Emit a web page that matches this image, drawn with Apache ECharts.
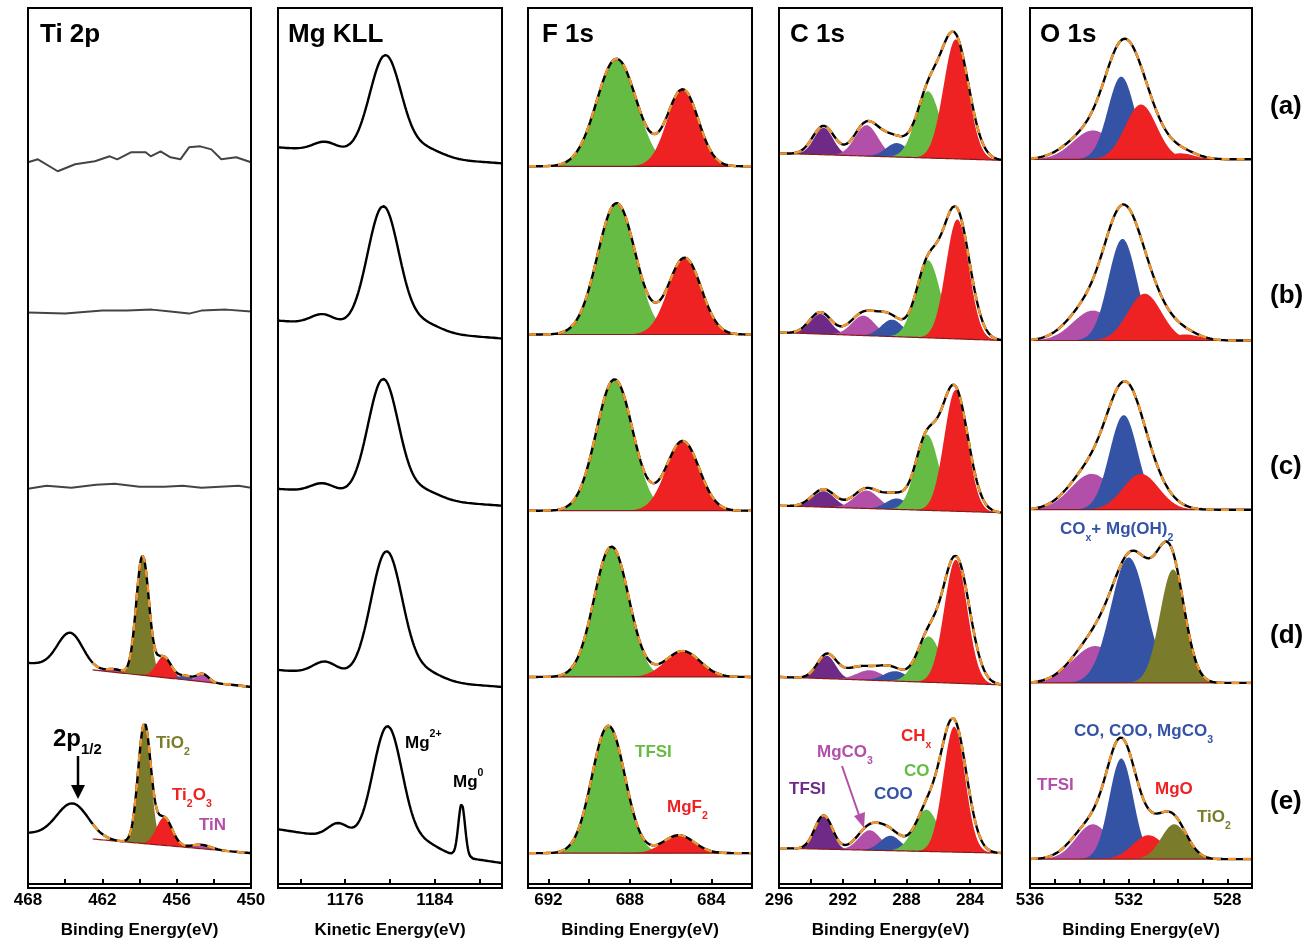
<!DOCTYPE html>
<html>
<head>
<meta charset="utf-8">
<script src="https://cdn.jsdelivr.net/npm/echarts@6/dist/echarts.min.js"></script>
<style>html,body{margin:0;padding:0;background:#fff}#container{width:1316px;height:944px}</style>
</head>
<body>
<div id="container"></div>
<script>
// colours of the fitted components
var colors = {
  green: '#66bb44', red: '#ee2222', blue: '#3453a5', magenta: '#b24fa8',
  purple: '#6e2a86', olive: '#7b7b2c'
};

// panel titles, x ranges (left edge -> right edge) and tick values
var panelTitles = ['Ti 2p', 'Mg KLL', 'F 1s', 'C 1s', 'O 1s'];
var axisNames = ['Binding Energy(eV)', 'Kinetic Energy(eV)', 'Binding Energy(eV)', 'Binding Energy(eV)', 'Binding Energy(eV)'];
var xRanges = [[468, 450], [1170, 1190], [693, 682], [296, 282], [536, 527]];
var tickLabels = [[468, 462, 456, 450], [1176, 1184], [692, 688, 684], [296, 292, 288, 284], [536, 532, 528]];
var minorTicks = [[468, 465, 462, 459, 456, 453, 450], [1172, 1176, 1180, 1184, 1188], [692, 690, 688, 686, 684], [296, 294, 292, 290, 288, 286, 284], [536, 535, 534, 533, 532, 531, 530, 529, 528]];
var sampleLabels = ['(a)', '(b)', '(c)', '(d)', '(e)'];

// background of each spectrum: [value at left edge, value at right edge]
var tiBg = [[22.2, 19.8], [5.1, 3.1]];
var mgBg = [[74.0, 72.4], [56.6, 54.8], [39.7, 38.0], [21.5, 19.8], [5.5, 2.1]];
var fBg = [[72.1, 72.1], [55.2, 55.2], [37.5, 37.5], [20.8, 20.8], [3.1, 3.1]];
var cBg = [[73.4, 72.7], [55.4, 54.6], [38.0, 37.3], [20.8, 20.0], [3.6, 3.1]];
var oBg = [[72.8, 72.8], [54.6, 54.6], [37.6, 37.6], [20.2, 20.2], [2.5, 2.5]];

// fitted peaks: [centre, height, fwhm, colour or null for unfilled]
var tiPeaks = [
  [[464.6, 3.5, 2.4, null], [461.0, 0.3, 1.5, 'magenta'], [458.75, 12.0, 1.2, 'olive'], [457.05, 2.1, 1.4, 'red'], [455.3, 0.4, 1.3, 'blue'], [453.9, 0.8, 1.1, 'magenta']],
  [[464.4, 3.4, 3.0, null], [458.6, 12.0, 1.2, 'olive'], [457.0, 2.8, 1.5, 'red'], [454.0, 0.4, 1.8, 'magenta']]
];
var mgPeaks = [
  [[1174.2, 0.9, 2.5, null], [1179.6, 10.0, 3.3, null], [1183.2, 0.9, 3.5, null]],
  [[1174.0, 1.0, 2.5, null], [1179.4, 12.3, 3.3, null], [1183.0, 0.9, 3.5, null]],
  [[1174.0, 0.9, 2.5, null], [1179.4, 11.8, 3.2, null], [1183.0, 0.9, 3.5, null]],
  [[1174.2, 1.2, 2.5, null], [1179.7, 12.7, 3.3, null], [1183.2, 0.9, 3.5, null]],
  [[1175.4, 1.5, 2.2, null], [1179.8, 12.0, 3.1, null], [1183.2, 0.8, 3.0, null], [1186.4, 5.3, 0.7, null]]
];
var fPeaks = [
  [[688.65, 10.8, 2.3, 'green'], [685.4, 7.7, 1.8, 'red']],
  [[688.65, 13.2, 2.2, 'green'], [685.3, 7.7, 1.9, 'red']],
  [[688.75, 13.2, 2.1, 'green'], [685.4, 7.0, 1.9, 'red']],
  [[688.9, 13.1, 2.0, 'green'], [685.4, 2.6, 2.0, 'red']],
  [[689.05, 12.8, 1.9, 'green'], [685.6, 1.8, 1.8, 'red']]
];
var cPeaks = [
  [[293.2, 2.7, 1.4, 'purple'], [290.5, 3.1, 1.7, 'magenta'], [288.6, 1.4, 1.6, 'blue'], [286.65, 6.7, 1.8, 'green'], [284.9, 12.0, 1.8, 'red']],
  [[293.4, 2.0, 1.5, 'purple'], [290.7, 2.0, 1.7, 'magenta'], [288.9, 1.7, 1.6, 'blue'], [286.65, 7.8, 1.8, 'green'], [284.8, 12.0, 1.7, 'red']],
  [[293.2, 1.6, 1.6, 'purple'], [290.5, 1.8, 1.8, 'magenta'], [288.6, 1.1, 1.6, 'blue'], [286.7, 7.6, 1.7, 'green'], [284.9, 12.2, 1.7, 'red']],
  [[293.0, 2.3, 1.3, 'purple'], [290.3, 1.0, 1.9, 'magenta'], [288.7, 1.0, 1.7, 'blue'], [286.6, 4.6, 1.8, 'green'], [284.9, 12.4, 1.7, 'red']],
  [[293.2, 3.3, 1.2, 'purple'], [290.3, 2.0, 1.6, 'magenta'], [289.0, 1.5, 1.5, 'blue'], [286.75, 4.2, 1.8, 'green'], [285.0, 12.6, 1.6, 'red']]
];
// measured C 1s envelopes (drawn above the components): [centre, height, fwhm]
var cEnvelope = [
  [[293.2, 2.9, 1.6], [290.5, 3.3, 1.8], [288.8, 1.9, 1.9], [286.7, 5.5, 1.7], [285.0, 12.4, 2.1]],
  [[293.4, 2.2, 1.6], [290.7, 2.2, 1.9], [289.1, 2.0, 1.8], [286.7, 6.8, 1.7], [284.9, 13.0, 2.0]],
  [[293.2, 1.8, 1.7], [290.5, 2.0, 1.9], [288.7, 1.4, 1.7], [286.8, 6.5, 1.6], [285.0, 12.5, 2.0]],
  [[293.0, 2.4, 1.4], [290.9, 1.3, 2.3], [289.0, 1.3, 1.9], [286.7, 4.0, 1.6], [284.9, 12.7, 2.0]],
  [[293.2, 3.4, 1.3], [290.3, 2.3, 1.8], [289.0, 1.7, 1.7], [286.75, 3.8, 1.7], [285.05, 13.2, 1.9]]
];
var oPeaks = [
  [[533.45, 2.9, 1.9, 'magenta'], [532.3, 8.3, 1.27, 'blue'], [531.5, 5.5, 1.5, 'red'], [529.9, 0.6, 1.3, 'red']],
  [[533.45, 3.0, 1.9, 'magenta'], [532.25, 10.2, 1.35, 'blue'], [531.35, 4.7, 1.6, 'red'], [529.7, 0.6, 1.4, 'red']],
  [[533.5, 3.6, 2.0, 'magenta'], [532.2, 9.5, 1.35, 'blue'], [531.5, 3.6, 1.7, 'red']],
  [[533.35, 3.7, 2.2, 'magenta'], [532.0, 12.6, 1.7, 'blue'], [530.2, 11.4, 1.25, 'olive']],
  [[533.45, 3.5, 1.6, 'magenta'], [532.3, 10.1, 1.15, 'blue'], [531.2, 2.4, 1.5, 'red'], [530.15, 3.5, 1.25, 'olive']]
];
var oEnvelope = [
  [[533.6, 2.6, 2.1], [532.3, 9.0, 1.65], [531.4, 4.5, 1.7], [529.9, 0.8, 1.5]],
  [[533.6, 3.4, 2.0], [532.3, 10.5, 1.65], [531.3, 4.8, 1.8], [529.8, 0.8, 1.5]],
  [[533.5, 4.0, 2.1], [532.2, 9.2, 1.65], [531.4, 3.8, 1.9]],
  [[533.4, 4.0, 2.1], [531.8, 12.2, 1.9], [530.3, 11.6, 1.3]],
  [[533.5, 3.5, 1.8], [532.3, 10.6, 1.35], [531.2, 2.6, 1.5], [530.2, 3.8, 1.3]]
];

// measured Ti 2p traces of samples (a)-(c): [eV, value]
var tiTraces = [
  [[468, 72.5], [467.2, 72.8], [465.6, 71.6], [464.2, 72.3], [462.6, 72.6], [461.4, 73.1], [460.8, 72.8], [459.7, 73.5], [458.5, 73.5], [458.1, 73.1], [457.3, 73.6], [456.5, 73.0], [455.7, 72.8], [455.0, 74.0], [454.1, 74.1], [453.2, 73.8], [452.4, 72.8], [451.2, 73.0], [450, 72.5]],
  [[468, 57.4], [465, 57.3], [462, 57.6], [460, 57.6], [458, 57.7], [456.5, 57.5], [455, 57.3], [454, 57.6], [452, 57.7], [450, 57.5]],
  [[468, 39.7], [466.5, 40.0], [464.5, 39.8], [462.5, 40.1], [461, 40.2], [459, 39.9], [457, 39.9], [455.5, 40.0], [454, 39.8], [452.5, 39.9], [451, 40.0], [450, 39.8]]
];

var gridLefts = [28, 278, 528, 779, 1030];
var gridWidths = [223, 224, 224, 223, 222];

var dom = document.getElementById('container');
var myChart = echarts.init(dom);
var grids = [], xAxes = [], yAxes = [], series = [];
var FONT = 'Liberation Sans';

for (var p = 0; p < 5; p++) {
  grids.push({left: gridLefts[p], width: gridWidths[p], top: 8, height: 880});
  var r = xRanges[p];
  xAxes.push({
    gridIndex: p, type: 'value', min: Math.min(r[0], r[1]), max: Math.max(r[0], r[1]),
    inverse: r[0] > r[1],
    name: axisNames[p], nameLocation: 'middle', nameGap: 38,
    nameTextStyle: {fontFamily: FONT, fontWeight: 'bold', fontSize: 17, color: '#000'},
    axisLine: {lineStyle: {color: '#000', width: 2}},
    axisTick: {customValues: minorTicks[p], inside: true, length: 5, lineStyle: {color: '#000', width: 2}},
    axisLabel: {customValues: tickLabels[p], fontFamily: FONT, fontWeight: 'bold', fontSize: 17, color: '#000', margin: 8,
      formatter: function (v) { return String(v); }},
    splitLine: {show: false}
  });
  yAxes.push({gridIndex: p, type: 'value', min: 0, max: 88, show: false});
}

function gauss(x, pk) {
  var s = pk[2] / 2.3548;
  return pk[1] * Math.exp(-(x - pk[0]) * (x - pk[0]) / (2 * s * s));
}
function bgAt(x, bg, r) {
  return bg[0] + (bg[1] - bg[0]) * (x - r[0]) / (r[1] - r[0]);
}
function sampleX(from, to) {
  var xs = [], n = 400;
  for (var i = 0; i <= n; i++) xs.push(from + (to - from) * i / n);
  return xs;
}

function addSpectrum(p, bg, peaks, fitFrom, envPeaks) {
  var r = xRanges[p];
  var xs = sampleX(r[0], r[1]);
  // filled components: polygon between background and background + peak
  peaks.forEach(function (pk) {
    if (!pk[3]) return;
    var lo = pk[0] - pk[2] * 1.7, hi = pk[0] + pk[2] * 1.7;
    var px = xs.filter(function (x) { return x >= lo && x <= hi; });
    var top = px.map(function (x) { return [x, bgAt(x, bg, r) + gauss(x, pk)]; });
    var bot = px.slice().reverse().map(function (x) { return [x, bgAt(x, bg, r)]; });
    var poly = top.concat(bot);
    series.push({type: 'custom', xAxisIndex: p, yAxisIndex: p, silent: true, data: [[pk[0], 0]],
      renderItem: function (params, api) {
        return {type: 'polygon', shape: {points: poly.map(function (d) { return api.coord(d); })},
          style: {fill: colors[pk[3]]}};
      }});
  });
  var hasFit = peaks.some(function (pk) { return pk[3]; });
  var envList = envPeaks || peaks;
  var env = xs.map(function (x) {
    var v = bgAt(x, bg, r);
    envList.forEach(function (pk) { v += gauss(x, pk); });
    return [x, v];
  });
  var inFit = function (x) { return r[0] > r[1] ? x <= fitFrom : x >= fitFrom; };
  if (hasFit) {
    series.push({type: 'line', xAxisIndex: p, yAxisIndex: p, symbol: 'none', silent: true, z: 3,
      lineStyle: {color: '#8b1a1a', width: 1.2}, data: xs.filter(inFit).map(function (x) { return [x, bgAt(x, bg, r)]; })});
  }
  series.push({type: 'line', xAxisIndex: p, yAxisIndex: p, symbol: 'none', silent: true, z: 4,
    lineStyle: {color: '#000', width: 2.4}, data: env});
  if (hasFit) {
    series.push({type: 'line', xAxisIndex: p, yAxisIndex: p, symbol: 'none', silent: true, z: 5,
      lineStyle: {color: '#f0962f', width: 2.5, type: [8, 7]}, data: env.filter(function (d) { return inFit(d[0]); })});
  }
}

tiTraces.forEach(function (t) {
  series.push({type: 'line', xAxisIndex: 0, yAxisIndex: 0, symbol: 'none', silent: true,
    lineStyle: {color: '#444', width: 2}, data: t});
});
addSpectrum(0, tiBg[0], tiPeaks[0], 462.8);
addSpectrum(0, tiBg[1], tiPeaks[1], 462.8);
for (var i = 0; i < 5; i++) {
  addSpectrum(1, mgBg[i], mgPeaks[i], 1170);
  addSpectrum(2, fBg[i], fPeaks[i], 693);
  addSpectrum(3, cBg[i], cPeaks[i], 296, cEnvelope[i]);
  addSpectrum(4, oBg[i], oPeaks[i], 536, oEnvelope[i]);
}

// text placed by its left edge and vertical centre
function txt(x, yc, rich, color, size) {
  var fs = size || 17;
  return {type: 'text', left: x, top: yc - fs / 2 - 1, silent: true, z: 50,
    style: {text: rich, fill: color, font: 'bold ' + fs + 'px ' + FONT,
      rich: {s: {fontSize: fs * 0.62, fontWeight: 'bold', fontFamily: FONT, fill: color, verticalAlign: 'bottom', padding: [0, 0, -6, 0]},
             u: {fontSize: fs * 0.62, fontWeight: 'bold', fontFamily: FONT, fill: color, verticalAlign: 'top', padding: [-6, 0, 0, 0]}}}};
}

var graphics = [];
var titleX = [40, 288, 542, 790, 1040];
panelTitles.forEach(function (t, k) { graphics.push(txt(titleX[k], 36, t, '#000', 26)); });
var labelY = [108, 297, 468, 637, 803];
sampleLabels.forEach(function (t, k) { graphics.push(txt(1270, labelY[k], t, '#000', 26)); });
graphics.push(
  txt(53, 740, '2p{s|1/2}', '#000', 24),
  {type: 'line', silent: true, shape: {x1: 78, y1: 756, x2: 78, y2: 788}, style: {stroke: '#000', lineWidth: 2.5}},
  {type: 'polygon', silent: true, shape: {points: [[71, 785], [85, 785], [78, 799]]}, style: {fill: '#000'}},
  txt(156, 744, 'TiO{s|2}', colors.olive),
  txt(172, 796, 'Ti{s|2}O{s|3}', colors.red),
  txt(199, 826, 'TiN', colors.magenta),
  txt(405, 738, 'Mg{u|2+}', '#000'),
  txt(453, 777, 'Mg{u|0}', '#000'),
  txt(635, 753, 'TFSI', colors.green),
  txt(667, 808, 'MgF{s|2}', colors.red),
  txt(789, 790, 'TFSI', colors.purple),
  txt(817, 753, 'MgCO{s|3}', colors.magenta),
  {type: 'line', silent: true, shape: {x1: 842, y1: 766, x2: 860, y2: 818}, style: {stroke: colors.magenta, lineWidth: 2}},
  {type: 'polygon', silent: true, shape: {points: [[854, 816], [865, 812], [864, 828]]}, style: {fill: colors.magenta}},
  txt(874, 795, 'COO', colors.blue),
  txt(904, 772, 'CO', colors.green),
  txt(901, 737, 'CH{s|x}', colors.red),
  txt(1060, 530, 'CO{s|x}+ Mg(OH){s|2}', colors.blue),
  txt(1074, 732, 'CO, COO, MgCO{s|3}', colors.blue),
  txt(1037, 786, 'TFSI', colors.magenta),
  txt(1155, 790, 'MgO', colors.red),
  txt(1197, 818, 'TiO{s|2}', colors.olive)
);
gridLefts.forEach(function (l, k) {
  graphics.push({type: 'rect', silent: true, z: 100, shape: {x: l, y: 8, width: gridWidths[k], height: 880},
    style: {fill: 'none', stroke: '#000', lineWidth: 2}});
});

option = {
  animation: false,
  backgroundColor: '#fff',
  grid: grids,
  xAxis: xAxes,
  yAxis: yAxes,
  series: series,
  graphic: graphics
};
myChart.setOption(option, true);
</script>
</body>
</html>
